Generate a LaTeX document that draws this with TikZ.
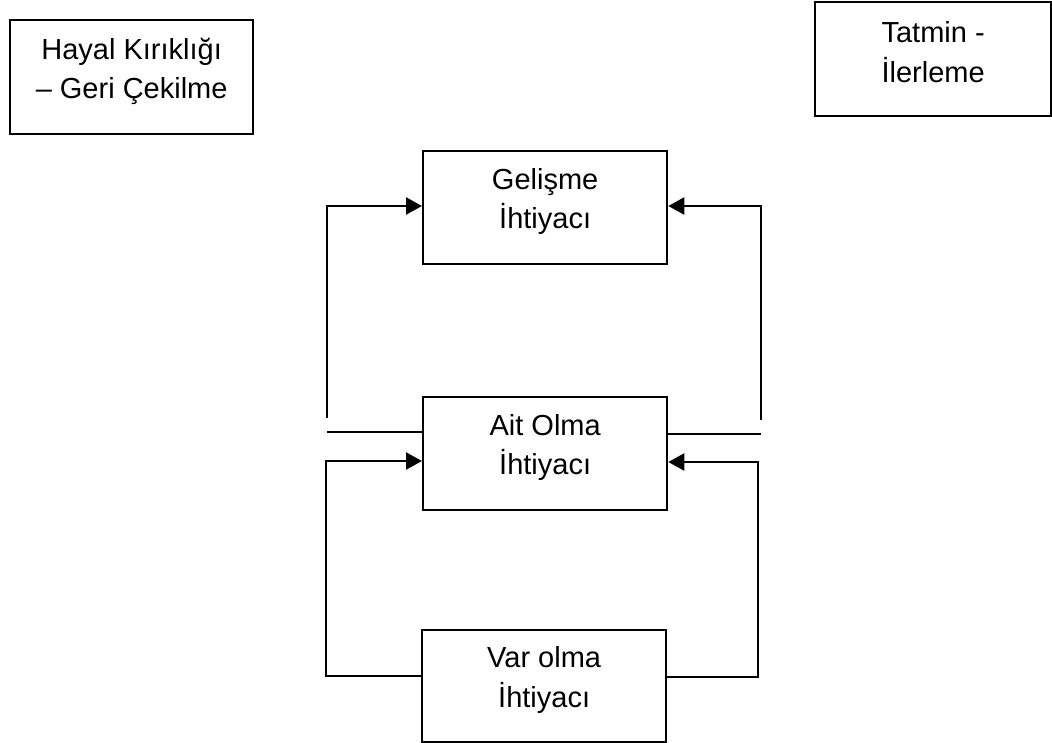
\documentclass[tikz,border=0pt]{standalone}
\usepackage{fontspec}
\setmainfont{Liberation Sans}
\usetikzlibrary{arrows.meta}
\tikzset{
  box/.style={draw, line width=2.3pt, inner sep=0pt, anchor=north west},
  txt/.style={align=center, font=\fontsize{29}{39.5}\selectfont, inner sep=0pt},
  conn/.style={line width=2.3pt},
  arr/.style={line width=2.3pt, -{Triangle[length=16pt,width=17pt]}},
}
\begin{document}
\begin{tikzpicture}[x=1pt,y=-1pt]
\useasboundingbox (0,0) rectangle (1052,742);
% boxes
\node[box, minimum width=243pt, minimum height=114pt] (hk) at (9,19) {};
\node[txt] (hkt) at ([yshift=6pt]hk.center) {Hayal Kırıklığı\\– Geri Çekilme};
\node[box, minimum width=236pt, minimum height=114pt] (ti) at (814,1) {};
\node[txt] (tit) at ([yshift=7pt]ti.center) {Tatmin -\\İlerleme};
\node[box, minimum width=244pt, minimum height=113pt] (g) at (422,150) {};
\node[txt] (gt) at ([yshift=6pt]g.center) {Gelişme\\İhtiyacı};
\node[box, minimum width=244pt, minimum height=113pt] (a) at (422,396) {};
\node[txt] (at) at ([yshift=6pt]a.center) {Ait Olma\\İhtiyacı};
\node[box, minimum width=244pt, minimum height=112pt] (v) at (421,629) {};
\node[txt] (vt) at ([yshift=6pt]v.center) {Var olma\\İhtiyacı};
% coordinates
\coordinate (lu1) at (327,418);
\coordinate (lu2) at (327,206);
\coordinate (lm) at (327,432);
\coordinate (lb1) at (326,676);
\coordinate (lb2) at (326,461);
\coordinate (ru1) at (761,420);
\coordinate (ru2) at (761,206);
\coordinate (rm) at (761,434);
\coordinate (rb1) at (758,677);
\coordinate (rb2) at (758,462);
% connectors
\draw[arr] (lu1) -- (lu2) -- (lu2 -| g.west);
\draw[conn] (lm) -- (lm -| a.west);
\draw[arr] (lb1 -| v.west) -- (lb1) -- (lb2) -- (lb2 -| a.west);
\draw[arr] (ru1) -- (ru2) -- (ru2 -| g.east);
\draw[conn] (rm -| a.east) -- (rm);
\draw[arr] (rb1 -| v.east) -- (rb1) -- (rb2) -- (rb2 -| a.east);
\end{tikzpicture}
\end{document}
